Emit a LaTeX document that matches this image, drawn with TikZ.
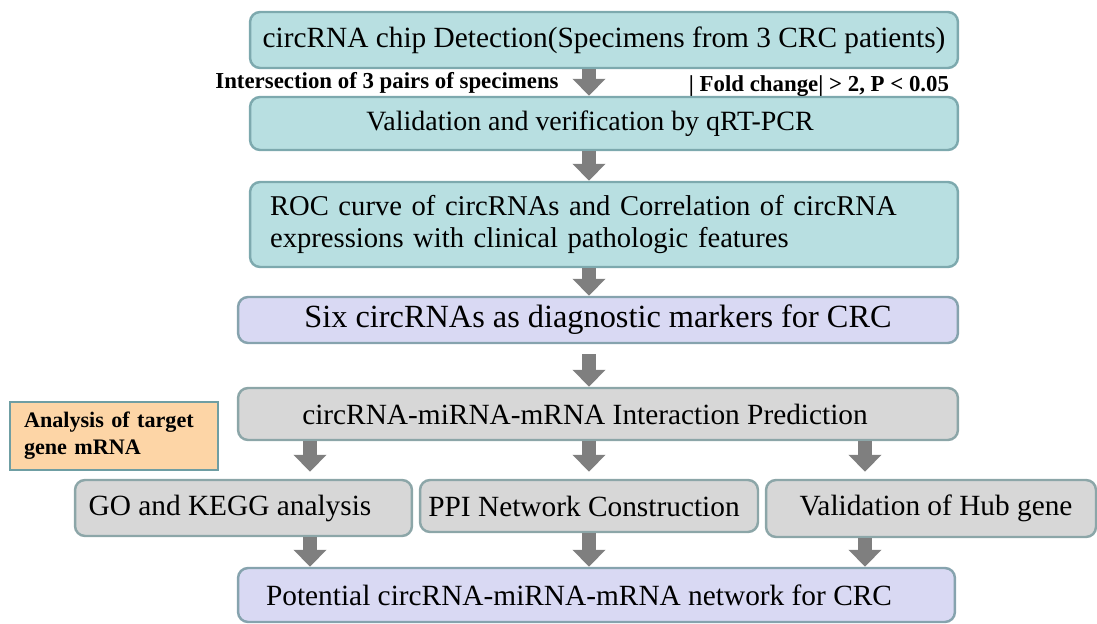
\documentclass[tikz,border=0pt]{standalone}
\usepackage{fontspec}
\setmainfont{Liberation Serif}
\usetikzlibrary{arrows.meta}

\definecolor{tealfill}{HTML}{B8DFE1}
\definecolor{tealline}{HTML}{7DA9AE}
\definecolor{lavfill}{HTML}{D9D9F3}
\definecolor{lavline}{HTML}{86A3AE}
\definecolor{grayfill}{HTML}{D7D7D7}
\definecolor{grayline}{HTML}{8CA6A8}
\definecolor{orangefill}{HTML}{FDD5A6}
\definecolor{orangeline}{HTML}{6F9EA3}
\definecolor{arrowgray}{HTML}{7F7F7F}

\tikzset{
  box/.style={draw, line width=1.4pt, rounded corners=0.2cm, inner sep=0pt,
    font=\fontsize{16.7}{19}\selectfont},
  tealbox/.style={box, fill=tealfill, draw=tealline},
  lavbox/.style={box, fill=lavfill, draw=lavline},
  graybox/.style={box, fill=grayfill, draw=grayline},
  notebox/.style={draw=orangeline, fill=orangefill, line width=1.4pt, align=left,
    inner sep=0pt, font=\fontsize{12.6}{15.5}\selectfont\bfseries},
  lbl/.style={font=\fontsize{13}{15}\selectfont\bfseries, inner sep=0pt},
  fatarrow/.style={draw=arrowgray, line width=0.28cm,
    -{Triangle[width=0.64cm, length=0.34cm]}}
}

\begin{document}
\begin{tikzpicture}[x=0.02cm, y=-0.02cm]
\useasboundingbox (0,0) rectangle (1097,624);
\coordinate (lft) at (310,0);
\coordinate (mid) at (589,0);
\coordinate (rgt) at (865,0);

\node[tealbox, minimum width=14.16cm, minimum height=1.12cm] (chip) at (604,40)
  {circRNA chip Detection(Specimens from 3 CRC patients)};
\node[tealbox, minimum width=14.16cm, minimum height=1.06cm, font=\fontsize{15.9}{18}\selectfont] (valid) at (604,123.5)
  {Validation and verification by qRT-PCR\hspace*{0.56cm}};
\node[tealbox, minimum width=14.16cm, minimum height=1.7cm, align=left,
  text width=13.36cm, inner xsep=0.4cm, font=\fontsize{16.3}{18.6}\selectfont] (roc) at (604,224.5)
  {ROC curve of circRNAs and Correlation of circRNA\\expressions with clinical pathologic features};
\node[lavbox, minimum width=14.4cm, minimum height=0.92cm, font=\fontsize{18.4}{21}\selectfont] (six) at (598,320)
  {Six circRNAs as diagnostic markers for CRC};
\node[graybox, minimum width=14.4cm, minimum height=1.04cm] (pred) at (598,414)
  {circRNA-miRNA-mRNA Interaction Prediction\hspace*{0.52cm}};
\node[notebox, minimum width=4.16cm, minimum height=1.36cm, text width=3.6cm] (target) at (114,436)
  {Analysis of target\\gene mRNA};
\node[graybox, minimum width=6.74cm, minimum height=1.12cm] (go) at (243.5,508)
  {\raisebox{-0.08cm}{GO and KEGG analysis}\hspace*{0.54cm}};
\node[graybox, minimum width=6.76cm, minimum height=1.04cm] (ppi) at (589,506)
  {PPI Network Construction\hspace*{0.2cm}};
\node[graybox, minimum width=6.6cm, minimum height=1.14cm] (hub) at (931,508.5)
  {\hspace*{0.2cm}\raisebox{-0.18cm}{Validation of Hub gene}};
\node[lavbox, minimum width=14.34cm, minimum height=1.08cm] (net) at (596.5,595)
  {Potential circRNA-miRNA-mRNA network for CRC\hspace*{0.7cm}};

\node[lbl] (inter) at (387,83) {Intersection of 3 pairs of specimens};
\node[lbl] (fold) at (819,86) {| Fold change| > 2, P < 0.05};

\draw[fatarrow] (chip.south -| mid) -- (valid.north -| mid);
\draw[fatarrow] (valid.south -| mid) -- (roc.north -| mid);
\draw[fatarrow] (roc.south -| mid) -- (six.north -| mid);
\draw[fatarrow, shorten <=0.2cm] (six.south -| mid) -- (pred.north -| mid);
\draw[fatarrow, shorten >=0.14cm] (pred.south -| lft) -- (go.north -| lft);
\draw[fatarrow, shorten >=0.14cm] (pred.south -| mid) -- (ppi.north -| mid);
\draw[fatarrow, shorten >=0.14cm] (pred.south -| rgt) -- (hub.north -| rgt);
\draw[fatarrow] (go.south -| lft) -- (net.north -| lft);
\draw[fatarrow] (ppi.south -| mid) -- (net.north -| mid);
\draw[fatarrow] (hub.south -| rgt) -- (net.north -| rgt);
\end{tikzpicture}
\end{document}
